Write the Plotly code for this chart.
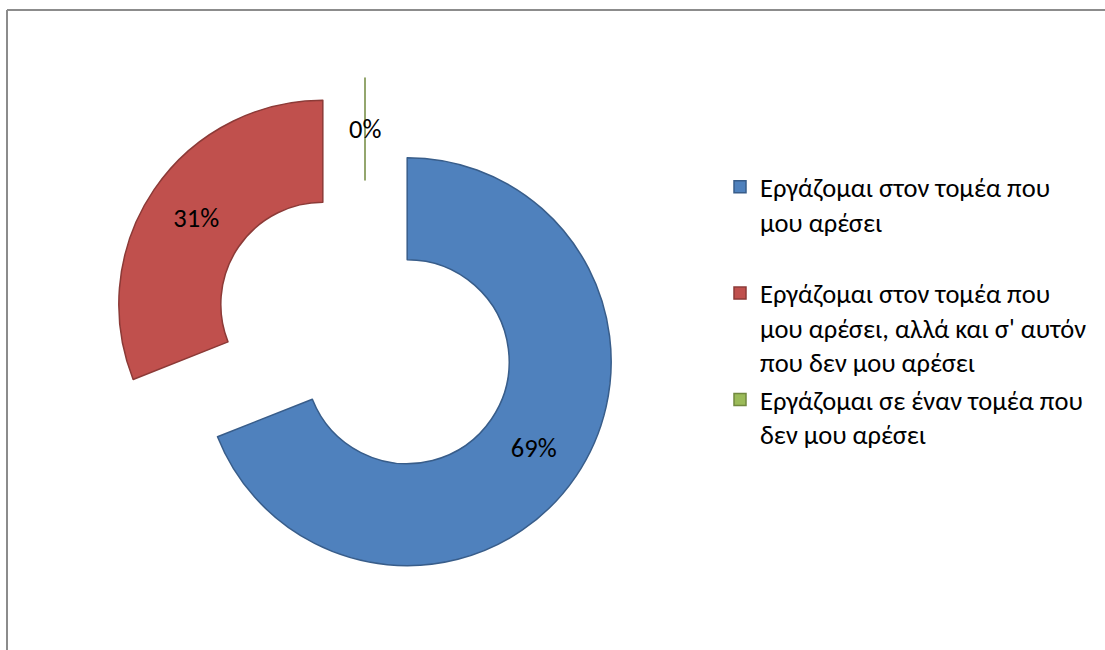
import math
import plotly.graph_objects as go

# Survey answers and their shares (percent)
labels = [
    "Εργάζομαι στον τομέα που<br>μου αρέσει<br> ",
    "Εργάζομαι στον τομέα που<br>μου αρέσει, αλλά και σ' αυτόν<br>που δεν μου αρέσει",
    "Εργάζομαι σε έναν τομέα που<br>δεν μου αρέσει",
]
values = [69, 31, 0]

fill_colors = ["#4F81BD", "#C0504D", "#9BBB59"]
edge_colors = ["#385D8A", "#8C3A37", "#71893F"]

W, H = 1105, 650
FONT = "Calibri, Carlito, Lato, sans-serif"
FS = 26.5

# pie box in pixels: centre and half-size (radius * (1 + pull))
cx, cy, half = 365, 333, 255
PULL = 0.25
HOLE = 0.5

fig = go.Figure(
    go.Pie(
        labels=labels,
        values=values,
        hole=HOLE,
        sort=False,
        direction="clockwise",
        rotation=0,
        pull=[PULL] * len(values),
        marker=dict(colors=fill_colors, line=dict(color=edge_colors, width=1.5)),
        texttemplate="%{percent:.0%}",
        textposition="inside",
        insidetextorientation="horizontal",
        textfont=dict(family=FONT, size=FS, color="#000000"),
        hoverinfo="label+percent",
        domain=dict(
            x=[(cx - half) / W, (cx + half) / W],
            y=[1 - (cy + half) / H, 1 - (cy - half) / H],
        ),
    )
)

# zero-sized slices get no inside text from plotly; label them at the ring's middle
R = half / (1 + PULL)
total = sum(values)
annotations = []
cum = 0
for v in values:
    if v == 0:
        ang = math.radians(360 * cum / total)
        dist = PULL * R + R * (1 + HOLE) / 2
        px = cx + dist * math.sin(ang)
        py = cy - dist * math.cos(ang)
        annotations.append(dict(
            x=px / W, y=1 - py / H, xref="paper", yref="paper",
            xanchor="center", yanchor="middle",
            text=f"{v}%", showarrow=False,
            font=dict(family=FONT, size=FS, color="#000000"),
        ))
    cum += v

fig.update_layout(
    width=W,
    height=H,
    margin=dict(l=0, r=0, t=0, b=0),
    paper_bgcolor="#FFFFFF",
    plot_bgcolor="#FFFFFF",
    font=dict(family=FONT, size=FS, color="#000000"),
    legend=dict(
        x=720 / W,
        y=1 - 163 / H,
        xanchor="left",
        yanchor="top",
        valign="top",
        font=dict(family=FONT, size=FS, color="#000000"),
        bgcolor="rgba(0,0,0,0)",
        itemclick=False,
    ),
    annotations=annotations,
    shapes=[
        dict(type="line", xref="paper", yref="paper",
             x0=7 / W, y0=0, x1=7 / W, y1=1 - 10 / H,
             line=dict(color="#8C8C8C", width=2)),
        dict(type="line", xref="paper", yref="paper",
             x0=7 / W, y0=1 - 10 / H, x1=1, y1=1 - 10 / H,
             line=dict(color="#8C8C8C", width=2)),
    ],
)

fig.write_html("out.html")
